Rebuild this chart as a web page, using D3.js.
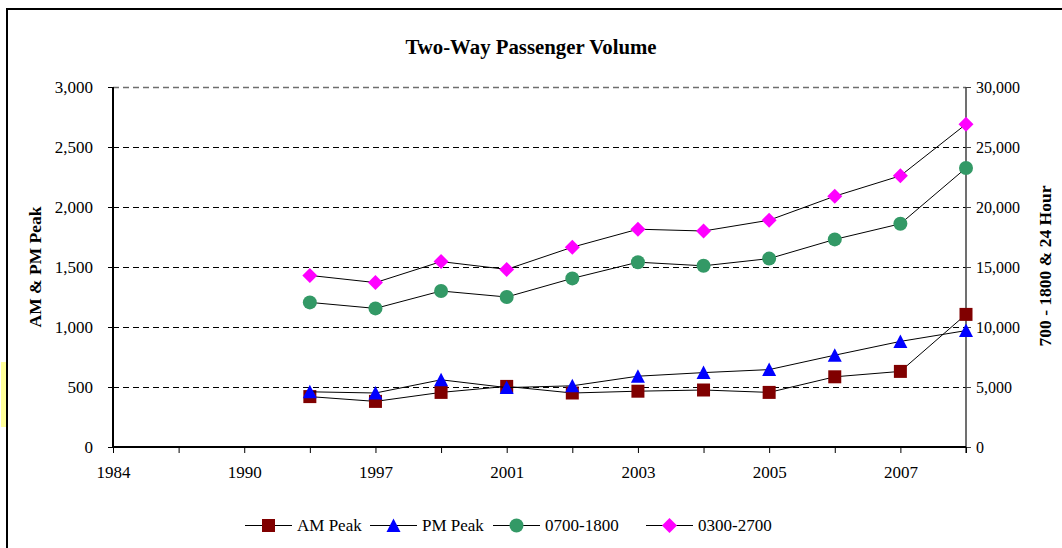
<!DOCTYPE html>
<html>
<head>
<meta charset="utf-8">
<script src="https://cdn.jsdelivr.net/npm/d3@7"></script>
<style>
  html, body { margin: 0; padding: 0; background: #fff; }
  svg { display: block; font-family: "Liberation Serif", "Times New Roman", serif; }
</style>
</head>
<body>
<svg id="chart" width="1062" height="548"></svg>
<script>
// Category axis (only every other label is printed)
const categories = ["1984", "1987", "1990", "1994", "1997", "1999", "2001", "2002", "2003", "2004", "2005", "2006", "2007", "2008"];
const labelled = ["1984", "1990", "1997", "2001", "2003", "2005", "2007"];

// Survey years with counts
const years = ["1994", "1997", "1999", "2001", "2002", "2003", "2004", "2005", "2006", "2007", "2008"];

// Peak-hour volumes (left axis)
const amPeak = [420, 380, 455, 505, 450, 465, 475, 455, 585, 630, 1105];
const pmPeak = [460, 450, 560, 495, 510, 590, 620, 645, 765, 880, 970];

// Daytime and 24-hour volumes (right axis)
const daytime = [12050, 11550, 13000, 12500, 14050, 15400, 15100, 15700, 17300, 18600, 23250];
const fullDay = [14300, 13700, 15450, 14800, 16650, 18150, 18000, 18900, 20900, 22600, 26900];

const leftTicks = [0, 500, 1000, 1500, 2000, 2500, 3000];
const rightTicks = [0, 5000, 10000, 15000, 20000, 25000, 30000];

const svg = d3.select("#chart");
const plot = { left: 113, right: 966, top: 87, bottom: 447 };
const serif = "Liberation Serif, Times New Roman, serif";

const x = d3.scalePoint().domain(categories).range([plot.left, plot.right]);
const yL = d3.scaleLinear().domain([0, 3000]).range([plot.bottom, plot.top]);
const yR = d3.scaleLinear().domain([0, 30000]).range([plot.bottom, plot.top]);

const fmt = d3.format(",");

// Outer chart frame
svg.append("path")
  .attr("d", "M7,548V9H1062")
  .attr("fill", "none")
  .attr("stroke", "#000")
  .attr("stroke-width", 2);

// Small highlight at the left margin
svg.append("rect")
  .attr("x", 1).attr("y", 362).attr("width", 5).attr("height", 65)
  .attr("fill", "#ffff99");

// Title
svg.append("text")
  .attr("x", 531).attr("y", 54)
  .attr("text-anchor", "middle")
  .attr("font-weight", "bold")
  .attr("font-size", 20.8)
  .text("Two-Way Passenger Volume");

// Horizontal gridlines (half-pixel offset keeps the dashes crisp)
svg.append("g")
  .selectAll("line")
  .data(leftTicks.filter(d => d > 0))
  .join("line")
  .attr("x1", plot.left).attr("x2", plot.right)
  .attr("y1", d => yL(d) + 0.5).attr("y2", d => yL(d) + 0.5)
  .attr("stroke", d => d === 3000 ? "#6e6e6e" : "#000")
  .attr("stroke-width", d => d === 3000 ? 1.5 : 1)
  .attr("stroke-dasharray", "6,4");

// Left axis
const gL = svg.append("g")
  .attr("transform", `translate(${plot.left},0)`)
  .call(d3.axisLeft(yL).tickValues(leftTicks).tickFormat(fmt).tickSize(5).tickPadding(15));
gL.select(".domain").remove();
gL.selectAll(".tick line").attr("stroke", "#000");
gL.selectAll("text").attr("font-size", 17).attr("fill", "#000").attr("font-family", serif);
svg.append("line")
  .attr("x1", plot.left).attr("x2", plot.left)
  .attr("y1", plot.top).attr("y2", plot.bottom + 1)
  .attr("stroke", "#000").attr("stroke-width", 2);

// Right axis
const gR = svg.append("g")
  .attr("transform", `translate(${plot.right},0)`)
  .call(d3.axisRight(yR).tickValues(rightTicks).tickFormat(fmt).tickSize(5).tickPadding(5));
gR.select(".domain").remove();
gR.selectAll(".tick line").attr("stroke", "#404040");
gR.selectAll("text").attr("font-size", 16).attr("fill", "#000").attr("font-family", serif);
svg.append("line")
  .attr("x1", plot.right).attr("x2", plot.right)
  .attr("y1", plot.top).attr("y2", plot.bottom + 6)
  .attr("stroke", "#404040").attr("stroke-width", 1.5);

// Bottom (category) axis
const gB = svg.append("g")
  .attr("transform", `translate(0,${plot.bottom})`)
  .call(d3.axisBottom(x).tickValues(categories)
    .tickFormat(d => labelled.includes(d) ? d : "")
    .tickSize(6).tickPadding(13));
gB.select(".domain").remove();
gB.selectAll(".tick line").attr("stroke", "#000");
gB.selectAll("text").attr("font-size", 17).attr("fill", "#000").attr("font-family", serif);
svg.append("line")
  .attr("x1", plot.left - 1).attr("x2", plot.right)
  .attr("y1", plot.bottom).attr("y2", plot.bottom)
  .attr("stroke", "#000").attr("stroke-width", 2);

// Axis titles
svg.append("text")
  .attr("transform", "translate(35,267) rotate(-90)")
  .attr("dy", "0.35em")
  .attr("text-anchor", "middle")
  .attr("font-weight", "bold")
  .attr("font-size", 17.5)
  .text("AM & PM Peak");

svg.append("text")
  .attr("transform", "translate(1045,266) rotate(-90)")
  .attr("dy", "0.35em")
  .attr("text-anchor", "middle")
  .attr("font-weight", "bold")
  .attr("font-size", 17.5)
  .text("700 - 1800 & 24 Hour");

// Marker shapes
const markers = {
  square: "M-6.5,-6.5H6.5V6.5H-6.5Z",
  triangle: "M0,-7L7,6.5H-7Z",
  circle: d3.symbol(d3.symbolCircle, Math.PI * 7 * 7)(),
  diamond: "M0,-7.5L7.5,0L0,7.5L-7.5,0Z"
};

const series = [
  { name: "AM Peak", values: amPeak, y: yL, shape: "square", color: "#800000" },
  { name: "PM Peak", values: pmPeak, y: yL, shape: "triangle", color: "#0000ff" },
  { name: "0700-1800", values: daytime, y: yR, shape: "circle", color: "#339966" },
  { name: "0300-2700", values: fullDay, y: yR, shape: "diamond", color: "#ff00ff" }
];

series.forEach(s => {
  const pts = years.map((yr, i) => [x(yr), s.y(s.values[i])]);
  const g = svg.append("g");
  g.append("path")
    .attr("d", d3.line()(pts))
    .attr("fill", "none")
    .attr("stroke", "#000")
    .attr("stroke-width", 1);
  g.selectAll("path.mk")
    .data(pts)
    .join("path")
    .attr("class", "mk")
    .attr("transform", d => `translate(${d[0]},${d[1]})`)
    .attr("d", markers[s.shape])
    .attr("fill", s.color);
});

// Legend
const legendX = [245, 370, 493, 646];
const leg = svg.append("g").attr("transform", "translate(0,525)");
series.forEach((s, i) => {
  const lx = legendX[i];
  leg.append("line")
    .attr("x1", lx).attr("x2", lx + 47)
    .attr("y1", 0.5).attr("y2", 0.5)
    .attr("stroke", "#000").attr("stroke-width", 1);
  leg.append("path")
    .attr("transform", `translate(${lx + 23.5},0.5)`)
    .attr("d", markers[s.shape])
    .attr("fill", s.color);
  leg.append("text")
    .attr("x", lx + 52)
    .attr("dy", "0.35em")
    .attr("font-size", 17)
    .text(s.name);
});
</script>
</body>
</html>
